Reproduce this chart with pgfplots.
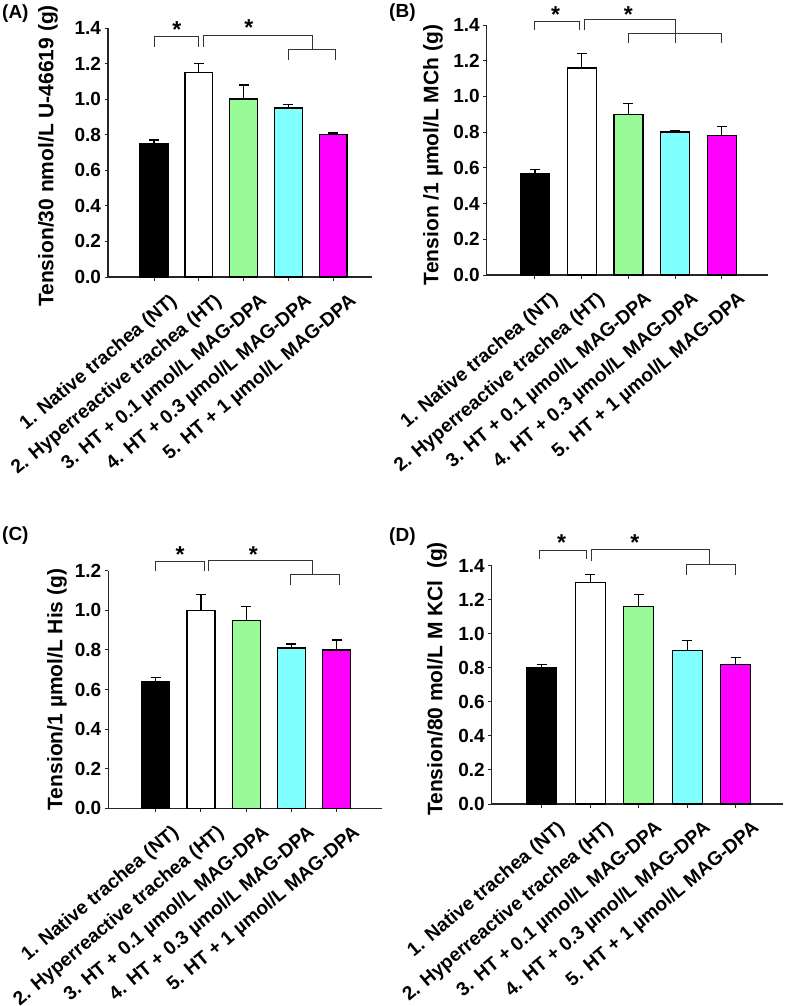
\documentclass[border=0pt]{standalone}
\usepackage{fontspec}
\setmainfont{Liberation Sans}
\usepackage{pgfplots}
\pgfplotsset{compat=1.18}
\definecolor{pgreen}{RGB}{152,251,152}
\definecolor{pcyan}{RGB}{128,255,255}
\definecolor{pmag}{RGB}{255,0,255}
\pgfplotsset{
 panel/.style={
  scale only axis, clip=false,
  axis x line*=bottom, axis y line*=left,
  axis line style={line width=1.2pt, black!85},
  tick style={line width=1pt, black!85},
  major tick length=3.5pt, tick align=outside,
  ymin=0,
  xtick={1,2,3,4,5},
  xticklabels={1. Native trachea (NT), 2. Hyperreactive trachea (HT), 3. HT + 0.1 µmol/L MAG-DPA, 4. HT + 0.3 µmol/L MAG-DPA, 5. HT + 1 µmol/L MAG-DPA},
  xticklabel style={rotate=40, anchor=north east, inner sep=0pt, xshift=4pt, yshift=-18.5pt, font=\fontsize{19.2}{21}\selectfont\bfseries},
  yticklabel style={font=\fontsize{19}{20}\selectfont\bfseries, /pgf/number format/.cd, fixed, fixed zerofill, precision=1, assume math mode=true},
  ylabel style={font=\fontsize{21}{23}\selectfont\bfseries, anchor=center},
  ybar, bar width=0.62, bar shift=0pt,
 },
 bars/.style={draw=black, line width=1.3pt, error bars/.cd, y dir=plus, y explicit, error bar style={line width=1.3pt,black}, error mark options={rotate=90,mark size=5pt,line width=1.3pt,black}},
}
\tikzset{
 brk/.style={line width=1pt, black!80},
 star/.style={anchor=base, inner sep=0pt, yshift=-12.5pt, font=\fontsize{23}{24}\selectfont\bfseries},
 plab/.style={anchor=north west, inner sep=0pt, font=\fontsize{19}{21}\selectfont\bfseries},
}
\begin{document}
\begin{tikzpicture}
\path[use as bounding box] (0,0) rectangle (787pt,-1006pt);
% (A)
\node[plab] at (2pt,-5pt) {(A)};
\begin{axis}[panel, at={(108pt,-277pt)}, anchor=south west, width=264pt, height=249pt,
  xmin=-0.028, xmax=5.87, ymax=1.4, ytick={0,0.2,0.4,0.6,0.8,1.0,1.2,1.4},
  ylabel={Tension/30 nmol/L U-46619 (g)}, ylabel style={at={(axis description cs:-0.227,0.486)}}]
\addplot[fill=black, bars] coordinates {(1,0.75) +- (0,0.02)};
\addplot[fill=white, bars] coordinates {(2,1.15) +- (0,0.05)};
\addplot[fill=pgreen, bars] coordinates {(3,1.00) +- (0,0.08)};
\addplot[fill=pcyan, bars] coordinates {(4,0.95) +- (0,0.02)};
\addplot[fill=pmag, bars] coordinates {(5,0.80) +- (0,0.01)};
\draw[brk] (axis cs:1,1.295) -- (axis cs:1,1.351) -- (axis cs:2,1.351) -- (axis cs:2,1.295);
\draw[brk] (axis cs:2.1,1.295) -- (axis cs:2.1,1.36) -- (axis cs:4.53,1.36) -- (axis cs:4.53,1.28);
\draw[brk] (axis cs:4,1.22) -- (axis cs:4,1.28) -- (axis cs:5.05,1.28) -- (axis cs:5.05,1.22);
\node[star] at (axis cs:1.51,1.417) {*};
\node[star] at (axis cs:3.12,1.426) {*};
\end{axis}
% (B)
\node[plab] at (389pt,-4pt) {(B)};
\begin{axis}[panel, at={(486.7pt,-275pt)}, anchor=south west, width=281.3pt, height=250pt,
  xmin=-0.034, xmax=5.99, ymax=1.4, ytick={0,0.2,0.4,0.6,0.8,1.0,1.2,1.4},
  ylabel={Tension /1 µmol/L MCh (g)}, ylabel style={at={(axis description cs:-0.191,0.48)}}]
\addplot[fill=black, bars] coordinates {(1,0.57) +- (0,0.02)};
\addplot[fill=white, bars] coordinates {(2,1.16) +- (0,0.08)};
\addplot[fill=pgreen, bars] coordinates {(3,0.90) +- (0,0.06)};
\addplot[fill=pcyan, bars] coordinates {(4,0.80) +- (0,0.01)};
\addplot[fill=pmag, bars] coordinates {(5,0.78) +- (0,0.05)};
\draw[brk] (axis cs:1,1.37) -- (axis cs:1,1.42) -- (axis cs:1.96,1.42) -- (axis cs:1.96,1.37);
\draw[brk] (axis cs:2.06,1.37) -- (axis cs:2.06,1.43) -- (axis cs:4,1.43) -- (axis cs:4,1.30);
\draw[brk] (axis cs:3,1.30) -- (axis cs:3,1.35) -- (axis cs:5,1.35) -- (axis cs:5,1.30);
\node[star] at (axis cs:1.44,1.484) {*};
\node[star] at (axis cs:3.0,1.484) {*};
\end{axis}
% (C)
\node[plab] at (2pt,-527pt) {(C)};
\begin{axis}[panel, at={(108.3pt,-808.3pt)}, anchor=south west, width=273.4pt, height=237.6pt,
  xmin=-0.047, xmax=5.995, ymax=1.2, ytick={0,0.2,0.4,0.6,0.8,1.0,1.2},
  ylabel={Tension/1 µmol/L His (g)}, ylabel style={at={(axis description cs:-0.188,0.5)}}]
\addplot[fill=black, bars] coordinates {(1,0.64) +- (0,0.02)};
\addplot[fill=white, bars] coordinates {(2,1.00) +- (0,0.08)};
\addplot[fill=pgreen, bars] coordinates {(3,0.95) +- (0,0.07)};
\addplot[fill=pcyan, bars] coordinates {(4,0.81) +- (0,0.02)};
\addplot[fill=pmag, bars] coordinates {(5,0.80) +- (0,0.05)};
\draw[brk] (axis cs:1,1.20) -- (axis cs:1,1.249) -- (axis cs:2.07,1.249) -- (axis cs:2.07,1.20);
\draw[brk] (axis cs:2.16,1.20) -- (axis cs:2.16,1.254) -- (axis cs:4.46,1.254) -- (axis cs:4.46,1.18);
\draw[brk] (axis cs:3.97,1.13) -- (axis cs:3.97,1.18) -- (axis cs:5.06,1.18) -- (axis cs:5.06,1.13);
\node[star] at (axis cs:1.54,1.305) {*};
\node[star] at (axis cs:3.16,1.305) {*};
\end{axis}
% (D)
\node[plab] at (389pt,-528pt) {(D)};
\begin{axis}[panel, at={(491.7pt,-804pt)}, anchor=south west, width=291.6pt, height=238.3pt,
  xmin=-0.031, xmax=5.98, ymax=1.4, ytick={0,0.2,0.4,0.6,0.8,1.0,1.2,1.4},
  ylabel={Tension/80 mol/L M KCl \ (g)}, ylabel style={at={(axis description cs:-0.188,0.525)}}]
\addplot[fill=black, bars] coordinates {(1,0.80) +- (0,0.02)};
\addplot[fill=white, bars] coordinates {(2,1.30) +- (0,0.05)};
\addplot[fill=pgreen, bars] coordinates {(3,1.16) +- (0,0.07)};
\addplot[fill=pcyan, bars] coordinates {(4,0.90) +- (0,0.06)};
\addplot[fill=pmag, bars] coordinates {(5,0.82) +- (0,0.04)};
\draw[brk] (axis cs:0.95,1.437) -- (axis cs:0.95,1.492) -- (axis cs:1.93,1.492) -- (axis cs:1.93,1.437);
\draw[brk] (axis cs:2.03,1.43) -- (axis cs:2.03,1.498) -- (axis cs:4.45,1.498) -- (axis cs:4.45,1.41);
\draw[brk] (axis cs:3.98,1.345) -- (axis cs:3.98,1.41) -- (axis cs:4.99,1.41) -- (axis cs:4.99,1.345);
\node[star] at (axis cs:1.41,1.56) {*};
\node[star] at (axis cs:2.92,1.56) {*};
\end{axis}
\end{tikzpicture}
\end{document}
